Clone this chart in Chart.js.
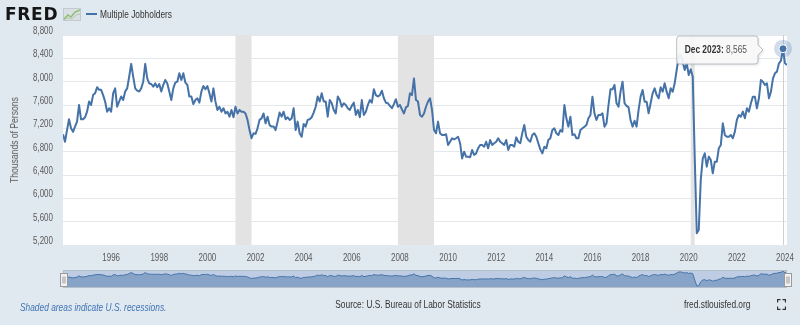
<!DOCTYPE html>
<html>
<head>
<meta charset="utf-8">
<script src="https://cdn.jsdelivr.net/npm/chart.js@4.4.1/dist/chart.umd.min.js"></script>
<style>
  html, body { margin: 0; padding: 0; background: #e1e9f0; }
  #wrap { position: relative; width: 800px; height: 325px; overflow: hidden;
          font-family: "Liberation Sans", Arial, sans-serif; }
  canvas { position: absolute; left: 0; }
  #main { top: 0; }
  #nav { top: 266px; }
  .abs { position: absolute; white-space: nowrap; }
  .narrow { transform: scaleX(0.76); transform-origin: 0 50%; }
  #logo { left: 5px; top: 4px; font: bold 17px "DejaVu Sans", sans-serif; letter-spacing: 0.7px; color: #161616; line-height: 20px; }
  #logoIcon { left: 63px; top: 8px; }
  #legendLine { left: 86px; top: 13px; width: 11px; height: 2px; background: #4572a7; }
  #legendText { left: 100px; top: 7px; font-size: 11px; line-height: 14px; color: #333; }
  #yTitle { left: 14px; top: 140px; font-size: 11px; color: #595959; transform: translate(-50%, -50%) rotate(-90deg) scaleX(0.78); }
  #note { left: 20px; top: 300px; font-size: 11px; line-height: 14px; font-style: italic; color: #3f73b5; }
  #source { left: 408px; top: 297px; font-size: 11px; line-height: 14px; color: #333; transform: translateX(-50%) scaleX(0.76); transform-origin: 50% 50%; }
  #site { left: 684px; top: 297px; font-size: 11px; line-height: 14px; color: #333; }
  #fullscreen { left: 777px; top: 299px; }
</style>
</head>
<body>
<div id="wrap">
  <canvas id="main" width="800" height="325"></canvas>
  <canvas id="nav" width="800" height="22"></canvas>
  <div id="logo" class="abs">FRED</div>
  <svg id="logoIcon" class="abs" width="18" height="13" viewBox="0 0 18 13">
    <rect x="0.5" y="0.5" width="17" height="12" fill="#d9dfe4" stroke="#c2c9cf"/>
    <polyline points="1,11 5,7 8,9 12,4 17,2" fill="none" stroke="#8cbf6e" stroke-width="1.5"/>
    <polyline points="1,12 5,10 9,11 13,7 17,6" fill="none" stroke="#b9c6b0" stroke-width="1"/>
  </svg>
  <div id="legendLine" class="abs"></div>
  <div id="legendText" class="abs narrow">Multiple Jobholders</div>
  <div id="yTitle" class="abs">Thousands of Persons</div>
  <div id="note" class="abs narrow">Shaded areas indicate U.S. recessions.</div>
  <div id="source" class="abs">Source: U.S. Bureau of Labor Statistics</div>
  <div id="site" class="abs narrow">fred.stlouisfed.org</div>
  <svg id="fullscreen" class="abs" width="9" height="11" viewBox="0 0 9 11">
    <path d="M0.5 3.5V0.5H3.5M5.5 0.5H8.5V3.5M8.5 7.5V10.5H5.5M3.5 10.5H0.5V7.5" fill="none" stroke="#333" stroke-width="1.3"/>
  </svg>
</div>

<script>
// monthly series, Jan 1994 onwards (thousands of persons)
const startYear = 1994;
const jobholders = [
  7100, 6970, 7170, 7355, 7200, 7140, 7230, 7315, 7600, 7355, 7355, 7390,
  7485, 7660, 7600, 7770, 7800, 7905, 7860, 7860, 7770, 7660, 7485, 7545,
  7485, 7800, 7885, 7570, 7660, 7745, 7685, 7830, 7885, 8085, 8305, 8085,
  7885, 7845, 7830, 7885, 8000, 8305, 8055, 7970, 7960, 7915, 7970, 7905,
  7960, 7830, 7945, 8030, 7970, 7830, 7685, 7885, 7985, 8000, 8145, 8030,
  8145, 7985, 7945, 7745, 7745, 7615, 7685, 7715, 7640, 7830, 7925, 7870,
  7925, 7800, 7660, 7885, 7660, 7515, 7570, 7485, 7545, 7455, 7485, 7400,
  7515, 7390, 7570, 7455, 7515, 7485, 7485, 7455, 7345, 7170, 7030, 7115,
  7105, 7200, 7345, 7370, 7455, 7285, 7400, 7255, 7230, 7230, 7170, 7315,
  7470, 7400, 7485, 7355, 7390, 7345, 7370, 7545, 7170, 7315, 7115, 7055,
  7275, 7230, 7345, 7355, 7390, 7470, 7570, 7745, 7660, 7800, 7660, 7660,
  7400, 7685, 7630, 7515, 7455, 7745, 7685, 7570, 7630, 7600, 7545, 7515,
  7585, 7640, 7430, 7515, 7390, 7685, 7430, 7485, 7600, 7685, 7640, 7870,
  7770, 7745, 7770, 7845, 7715, 7640, 7630, 7585, 7545, 7615, 7700, 7570,
  7600, 7525, 7455, 7560, 7585, 7800, 7770, 8055, 7685, 7660, 7430, 7400,
  7455, 7570, 7660, 7715, 7515, 7170, 7115, 7315, 7115, 7085, 7085, 7100,
  6915, 6970, 7030, 7010, 7030, 7055, 6945, 6685, 6800, 6715, 6715, 6705,
  6830, 6745, 6770, 6860, 6915, 6915, 6885, 6970, 6857, 7000, 6915, 6945,
  6970, 7030, 6970, 6945, 6915, 7000, 6830, 6915, 6915, 6885, 7045, 6970,
  6945, 7115, 7257, 7057, 7000, 6970, 7085, 7115, 7057, 6945, 6840, 6770,
  6885, 6857, 7000, 7030, 7170, 7200, 7115, 7085, 7170, 7143, 7600, 7372,
  7229, 7400, 7085, 7100, 7030, 7030, 7170, 7200, 7229, 7257, 7372, 7430,
  7743, 7457, 7343, 7430, 7430, 7457, 7229, 7286, 7600, 7870, 7870, 7943,
  7629, 7572, 7829, 8000, 7630, 7585, 7560, 7343, 7229, 7330, 7229, 7515,
  7743, 7857, 7657, 7657, 7457, 7629, 7800, 7886, 7772, 7715, 7903, 7829,
  7972, 7829, 7715, 7886, 7829, 7972, 8200, 8429, 8457, 8343, 8200, 8315,
  8115, 8212, 8086, 6700, 5400, 5457, 6315, 6686, 6772, 6543, 6715, 6657,
  6429, 6629, 6629, 6857, 6915, 7286, 7086, 7057, 7057, 7086, 7029, 7143,
  7343, 7429, 7400, 7486, 7372, 7543, 7486, 7629, 7743, 7743, 7543, 7715,
  8029, 8000, 7943, 7972, 7715, 7829, 8057, 8143, 8172, 8315, 8360, 8565,
  8315, 8286
];
const tickYears = ['1996', '1998', '2000', '2002', '2004', '2006', '2008', '2010',
                   '2012', '2014', '2016', '2018', '2020', '2022', '2024'];
const yTicks = [5200, 5600, 6000, 6400, 6800, 7200, 7600, 8000, 8400, 8800];
const recessions = [['2001-03', '2001-11'], ['2007-12', '2009-06'], ['2020-02', '2020-04']];
const highlightMonth = '2023-12';
const monthNames = ['Jan', 'Feb', 'Mar', 'Apr', 'May', 'Jun', 'Jul', 'Aug', 'Sep', 'Oct', 'Nov', 'Dec'];

const lineColor = '#4572a7';
const fontFamily = '"Liberation Sans", Arial, sans-serif';
const squeeze = 0.76;   // condensed look for all canvas text

function monthIndex(s) {
  const [y, m] = s.split('-').map(Number);
  return (y - startYear) * 12 + (m - 1);
}

const points = jobholders.map((v, i) => ({ x: i, y: v }));
const xTicks = tickYears.map(y => (Number(y) - startYear) * 12);
const lastIndex = jobholders.length - 1;

// draws text squeezed horizontally around an anchor point
function narrowText(ctx, text, x, y, align) {
  ctx.save();
  ctx.translate(x, y);
  ctx.scale(squeeze, 1);
  ctx.textAlign = align;
  ctx.fillText(text, 0, 0);
  ctx.restore();
}

// white plot background, recession bands and the hover crosshair
const backdrop = {
  id: 'backdrop',
  beforeDraw(chart) {
    const { ctx, chartArea: a } = chart;
    ctx.save();
    ctx.fillStyle = '#ffffff';
    ctx.fillRect(a.left, a.top, a.right - a.left, a.bottom - a.top);
    ctx.restore();
  },
  beforeDatasetsDraw(chart) {
    const { ctx, chartArea: a, scales: { x } } = chart;
    ctx.save();
    ctx.fillStyle = '#e3e3e3';
    recessions.forEach(([s, e]) => {
      const x0 = x.getPixelForValue(monthIndex(s));
      const x1 = x.getPixelForValue(monthIndex(e));
      ctx.fillRect(x0, a.top, x1 - x0, a.bottom - a.top);
    });
    const hx = Math.round(x.getPixelForValue(monthIndex(highlightMonth))) + 0.5;
    ctx.strokeStyle = '#cfcfcf';
    ctx.lineWidth = 1;
    ctx.beginPath();
    ctx.moveTo(hx, a.top);
    ctx.lineTo(hx, a.bottom);
    ctx.stroke();
    ctx.restore();
  },
  afterDraw(chart) {
    // axis labels, placed through the scales
    const { ctx, chartArea: a, scales: { x, y } } = chart;
    ctx.save();
    ctx.fillStyle = '#595959';
    ctx.font = '10.5px ' + fontFamily;
    ctx.textBaseline = 'middle';
    yTicks.forEach(v => {
      narrowText(ctx, v.toLocaleString('en-US'), a.left - 10, y.getPixelForValue(v) - 4, 'right');
    });
    xTicks.forEach((v, i) => {
      narrowText(ctx, tickYears[i], x.getPixelForValue(v), a.bottom + 13, 'center');
    });
    ctx.restore();
  }
};

// highlighted point with its value box
const hoverBox = {
  id: 'hoverBox',
  afterDatasetsDraw(chart) {
    const { ctx } = chart;
    const idx = monthIndex(highlightMonth);
    const pt = chart.getDatasetMeta(0).data[idx];
    const value = jobholders[idx];
    const [yy, mm] = highlightMonth.split('-');
    const label = monthNames[Number(mm) - 1] + ' ' + yy + ':';
    const valText = ' ' + value.toLocaleString('en-US');

    ctx.save();
    ctx.fillStyle = 'rgba(69,114,167,0.25)';
    ctx.beginPath();
    ctx.arc(pt.x, pt.y, 9, 0, Math.PI * 2);
    ctx.fill();
    ctx.fillStyle = lineColor;
    ctx.strokeStyle = '#ffffff';
    ctx.lineWidth = 1;
    ctx.beginPath();
    ctx.arc(pt.x, pt.y, 4, 0, Math.PI * 2);
    ctx.fill();
    ctx.stroke();

    ctx.font = 'bold 11px ' + fontFamily;
    const w1 = ctx.measureText(label).width * squeeze;
    ctx.font = '11px ' + fontFamily;
    const w2 = ctx.measureText(valText).width * squeeze;
    const right = pt.x - 25, top = 36, h = 28;
    const left = right - (w1 + w2) - 19;
    const midY = top + h / 2;

    ctx.shadowColor = 'rgba(0,0,0,0.15)';
    ctx.shadowBlur = 3;
    ctx.shadowOffsetX = 1;
    ctx.shadowOffsetY = 1;
    ctx.fillStyle = 'rgba(250,250,250,0.92)';
    ctx.strokeStyle = '#b8c0c8';
    ctx.beginPath();
    ctx.moveTo(left + 3, top);
    ctx.lineTo(right - 3, top);
    ctx.quadraticCurveTo(right, top, right, top + 3);
    ctx.lineTo(right, midY - 5);
    ctx.lineTo(right + 5, midY);
    ctx.lineTo(right, midY + 5);
    ctx.lineTo(right, top + h - 3);
    ctx.quadraticCurveTo(right, top + h, right - 3, top + h);
    ctx.lineTo(left + 3, top + h);
    ctx.quadraticCurveTo(left, top + h, left, top + h - 3);
    ctx.lineTo(left, top + 3);
    ctx.quadraticCurveTo(left, top, left + 3, top);
    ctx.closePath();
    ctx.fill();
    ctx.shadowColor = 'transparent';
    ctx.stroke();

    ctx.textBaseline = 'middle';
    ctx.fillStyle = '#333';
    ctx.font = 'bold 11px ' + fontFamily;
    narrowText(ctx, label, left + 8, midY, 'left');
    ctx.font = '11px ' + fontFamily;
    ctx.fillStyle = '#555';
    narrowText(ctx, valText, left + 8 + w1, midY, 'left');
    ctx.restore();
  }
};

new Chart(document.getElementById('main'), {
  type: 'line',
  data: {
    datasets: [{
      data: points,
      borderColor: lineColor,
      borderWidth: 2,
      borderJoinStyle: 'round',
      pointRadius: 0,
      tension: 0,
      fill: false
    }]
  },
  options: {
    responsive: false,
    animation: false,
    events: [],
    layout: { padding: { top: 35, right: 13, left: 0, bottom: 0 } },
    plugins: { legend: { display: false }, tooltip: { enabled: false } },
    scales: {
      x: {
        type: 'linear',
        min: 0,
        max: lastIndex,
        grid: { display: false },
        border: { display: false },
        afterBuildTicks: s => { s.ticks = xTicks.map(v => ({ value: v })); },
        afterFit: s => { s.height = 80; },
        ticks: { display: false }
      },
      y: {
        min: yTicks[0],
        max: yTicks[yTicks.length - 1],
        afterBuildTicks: s => { s.ticks = yTicks.map(v => ({ value: v })); },
        afterFit: s => { s.width = 63; },
        grid: { color: '#e4e8ec', drawTicks: false, lineWidth: 1 },
        border: { display: false },
        ticks: { display: false }
      }
    }
  },
  plugins: [backdrop, hoverBox]
});

// range navigator strip under the axis
const navFrame = {
  id: 'navFrame',
  beforeDatasetsDraw(chart) {
    const { ctx, chartArea: a } = chart;
    ctx.save();
    ctx.fillStyle = 'rgba(102,133,194,0.28)';
    ctx.fillRect(a.left, a.top, a.right - a.left, a.bottom - a.top);
    ctx.restore();
  },
  afterDraw(chart) {
    const { ctx, chartArea: a } = chart;
    ctx.save();
    ctx.strokeStyle = '#b4bfcc';
    ctx.lineWidth = 1;
    ctx.strokeRect(a.left + 0.5, a.top + 0.5, a.right - a.left - 1, a.bottom - a.top - 1);
    [a.left, a.right].forEach(hx => {
      const x0 = Math.round(hx - 3.5) + 0.5, y0 = a.top + 3.5;
      ctx.fillStyle = '#f2f2f2';
      ctx.strokeStyle = '#999';
      ctx.fillRect(x0, y0, 7, 13);
      ctx.strokeRect(x0, y0, 7, 13);
      ctx.beginPath();
      ctx.moveTo(x0 + 2.5, y0 + 3);
      ctx.lineTo(x0 + 2.5, y0 + 10);
      ctx.moveTo(x0 + 4.5, y0 + 3);
      ctx.lineTo(x0 + 4.5, y0 + 10);
      ctx.stroke();
    });
    ctx.restore();
  }
};

new Chart(document.getElementById('nav'), {
  type: 'line',
  data: {
    datasets: [{
      data: points,
      borderColor: lineColor,
      borderWidth: 1,
      backgroundColor: 'rgba(69,114,167,0.45)',
      fill: 'start',
      pointRadius: 0,
      tension: 0
    }]
  },
  options: {
    responsive: false,
    animation: false,
    events: [],
    layout: { padding: { left: 63, right: 13, top: 4, bottom: 0 } },
    plugins: { legend: { display: false }, tooltip: { enabled: false } },
    scales: {
      x: { type: 'linear', display: false, min: 0, max: lastIndex },
      y: { display: false, min: 4950, max: 8870 }
    }
  },
  plugins: [navFrame]
});
</script>
</body>
</html>
